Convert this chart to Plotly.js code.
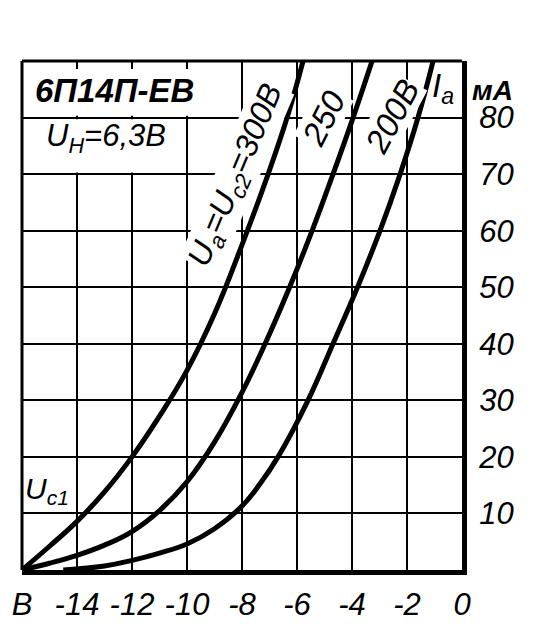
<!DOCTYPE html>
<html>
<head>
<meta charset="utf-8">
<script src="https://cdn.plot.ly/plotly-3.0.1.min.js"></script>
<style>html,body{margin:0;padding:0;background:#fff;}</style>
</head>
<body>
<div id="chart" style="width:551px;height:638px;"></div>
<script>
// Grid voltage Uc1 (V) and anode current Ia (mA)
const ug300 = [-16, -15, -14, -13, -12, -11, -10, -9, -8, -7.05, -6.36, -5.78];
const ia300 = [0, 4.2, 8.6, 13.8, 20, 27.2, 35.3, 45.3, 57.5, 70, 80, 90];

const ug250 = [-16, -15, -14, -13, -12, -11, -10, -9, -8, -7.16, -6.27, -5.45, -4.69, -3.96, -3.27];
const ia250 = [0, 1.2, 2.6, 4.4, 6.8, 10.5, 15.6, 22.6, 31.4, 40, 50, 60, 70, 80, 90];

const ug200 = [-14.5, -13, -12, -11, -10, -9, -8, -7.35, -6.69, -5.6, -4.69, -3.8, -2.98, -2.25, -1.6, -1.05];
const ia200 = [0, 0.7, 1.7, 3, 4.6, 7.3, 11.3, 15.2, 20, 30, 40, 50, 60, 70, 80, 90];

const xTicks = [-16, -14, -12, -10, -8, -6, -4, -2, 0];
const xTickText = ["В", "-14", "-12", "-10", "-8", "-6", "-4", "-2", "0"];
const yTicks = [0, 10, 20, 30, 40, 50, 60, 70, 80, 90];
const yTickText = ["", "10", "20", "30", "40", "50", "60", "70", "80", ""];

const curveLabels = ["U<sub>а</sub>=U<sub>с2</sub>=300В", "250", "200В"];

const FONT = "Liberation Sans, Arial, sans-serif";
const lineStyle = {color: "#000", width: 5, shape: "spline", smoothing: 1.2};

const traces = [
  {x: ug300, y: ia300, mode: "lines", line: lineStyle, hoverinfo: "skip"},
  {x: ug250, y: ia250, mode: "lines", line: lineStyle, hoverinfo: "skip"},
  {x: ug200, y: ia200, mode: "lines", line: lineStyle, hoverinfo: "skip"}
];

const tickFont = {family: FONT, size: 31, color: "#000", style: "italic"};

function label(x, y, text, size, extra) {
  return Object.assign({
    xref: "x", yref: "y", x: x, y: y, text: text, showarrow: false,
    xanchor: "center", yanchor: "middle",
    font: {family: FONT, size: size, color: "#000", style: "italic"}
  }, extra || {});
}

const layout = {
  width: 551, height: 638,
  margin: {l: 22, r: 89, t: 61, b: 68, pad: 0},
  paper_bgcolor: "#fff", plot_bgcolor: "#fff",
  showlegend: false,
  xaxis: {
    range: [-16, 0], tickmode: "array", tickvals: xTicks, ticktext: xTickText,
    tickangle: 0, showgrid: true, gridcolor: "#000", gridwidth: 2,
    zeroline: false, showline: true, linecolor: "#000", linewidth: 5,
    ticks: "", tickfont: tickFont, ticklabelstandoff: 3, fixedrange: true
  },
  yaxis: {
    range: [0, 90], side: "right", tickmode: "array", tickvals: yTicks, ticktext: yTickText,
    showgrid: true, gridcolor: "#000", gridwidth: 2,
    zeroline: false, showline: true, linecolor: "#000", linewidth: 5,
    ticks: "", tickfont: tickFont, ticklabelstandoff: 6, fixedrange: true
  },
  shapes: [
    // white panels of the title boxes (hide grid lines only)
    {type: "rect", xref: "x", yref: "y", x0: -15.95, x1: -8.6, y0: 80.3, y1: 88.6,
     fillcolor: "#fff", line: {width: 0}, layer: "between"},
    {type: "rect", xref: "x", yref: "y", x0: -15.95, x1: -10.07, y0: 70.3, y1: 79.7,
     fillcolor: "#fff", line: {width: 0}, layer: "between"},
    // left and top frame
    {type: "line", xref: "paper", yref: "paper", x0: 0, x1: 0, y0: 0, y1: 1,
     line: {color: "#000", width: 3}, layer: "above"},
    {type: "line", xref: "paper", yref: "paper", x0: 0, x1: 1, y0: 1, y1: 1,
     line: {color: "#000", width: 3}, layer: "above"}
  ],
  annotations: [
    label(-12.62, 84.7, "6П14П-ЕВ", 33, {font: {family: FONT, size: 33, color: "#000", weight: "bold", style: "italic"}}),
    label(-12.95, 76.4, "U<sub>Н</sub>=6,3В", 31),
    label(-15.1, 14, "U<sub>с1</sub>", 30),
    label(-8.2, 69.6, curveLabels[0], 32, {textangle: -67, bgcolor: "#fff", borderpad: 0}),
    label(-5.05, 79.9, curveLabels[1], 33, {textangle: -63, bgcolor: "#fff", borderpad: 0}),
    label(-2.55, 80.2, curveLabels[2], 33, {textangle: -62, bgcolor: "#fff", borderpad: 0}),
    label(-0.69, 85.3, "I<sub>a</sub>", 33),
    {xref: "paper", yref: "paper", x: 1.07, y: 0.942, xanchor: "center", yanchor: "middle",
     text: "мА", showarrow: false,
     font: {family: FONT, size: 28, color: "#000", style: "italic", weight: "bold"}}
  ]
};

Plotly.newPlot("chart", traces, layout, {displayModeBar: false, staticPlot: true});
</script>
</body>
</html>
